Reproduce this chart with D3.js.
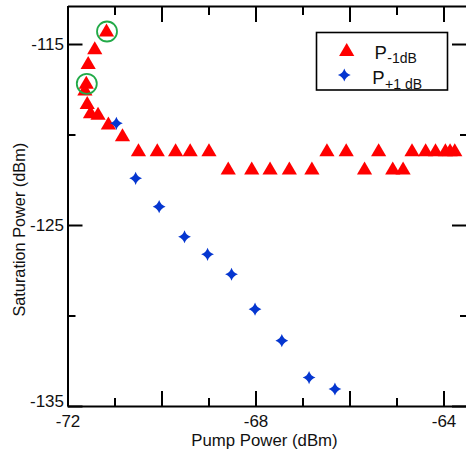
<!DOCTYPE html>
<html>
<head>
<meta charset="utf-8">
<script src="https://cdn.jsdelivr.net/npm/d3@7"></script>
<style>
  html, body { margin: 0; padding: 0; background: #fff; }
  svg { display: block; font-family: "Liberation Sans", Arial, sans-serif; }
</style>
</head>
<body>
<svg id="chart" width="466" height="452"></svg>
<script>
// P(-1 dB) saturation points: pump power (dBm) and saturation power (dBm)
const pumpMinus = [-71.17, -71.42, -71.56, -71.60, -71.63, -71.58, -71.51, -71.35, -71.13, -70.83,
                   -70.49, -70.09, -69.70, -69.39, -68.99, -68.58, -68.08, -67.69, -67.28, -66.80,
                   -66.48, -66.07, -65.68, -65.38, -65.08, -64.86, -64.67, -64.38, -64.17, -63.96,
                   -63.86, -63.76];
const satMinus  = [-114.28, -115.26, -116.07, -117.17, -117.54, -118.28, -118.80, -118.88, -119.42, -120.07,
                   -120.9, -120.9, -120.9, -120.9, -120.9, -121.9, -121.9, -121.9, -121.9, -121.9,
                   -120.9, -120.9, -121.9, -120.9, -121.9, -121.9, -120.9, -120.9, -120.9, -120.9,
                   -120.9, -120.9];

// P(+1 dB) points
const pumpPlus = [-70.96, -70.55, -70.05, -69.51, -69.02, -68.51, -68.01, -67.44, -66.86, -66.31];
const satPlus  = [-119.38, -122.42, -123.99, -125.65, -126.62, -127.72, -129.65, -131.39, -133.43, -134.06];

// Highlighted P(-1 dB) points (indices into the arrays above)
const circledIdx = [0, 3];

// Axis ticks
const xMajorTicks = [-72, -70, -68, -66, -64];
const xMinorTicks = [-71, -69, -67, -65];
const xTickLabels = [-72, -68, -64];
const yMajorTicks = [-135, -125, -115];
const yMinorTicks = [-130, -120];
const yTickLabels = [-135, -125, -115];

const legendLabels = [
  { main: "P", sub: "-1dB" },
  { main: "P", sub: "+1 dB" }
];

const RED = "#ff0000", BLUE = "#0536d0", GREEN = "#22aa48";

const svg = d3.select("#chart");
const plotLeft = 67.5, plotRight = 467, plotTop = 6, plotBottom = 406;

const x = d3.scaleLinear().domain([-72, -63.5]).range([plotLeft, plotRight]);
const y = d3.scaleLinear().domain([-135, -112.9]).range([plotBottom, plotTop]);

function styleAxis(g) {
  g.select(".domain").attr("stroke", "#000").attr("stroke-width", 2);
  g.selectAll(".tick line").attr("stroke", "#000").attr("stroke-width", 2);
  g.selectAll(".tick text").attr("fill", "#111").attr("font-size", 17)
    .attr("font-family", "'Liberation Sans', Arial, sans-serif");
}

// bottom axis: major + minor ticks pointing inward
const fmtX = d => xTickLabels.includes(d) ? String(d) : "";
svg.append("g").attr("transform", `translate(0,${plotBottom})`)
  .call(d3.axisBottom(x).tickValues(xMajorTicks).tickSizeInner(-15).tickSizeOuter(0)
        .tickPadding(9).tickFormat(fmtX))
  .call(styleAxis);
svg.append("g").attr("transform", `translate(0,${plotBottom})`)
  .call(d3.axisBottom(x).tickValues(xMinorTicks).tickSizeInner(-8).tickSizeOuter(0).tickFormat(""))
  .call(styleAxis).call(g => g.select(".domain").remove());

// top axis
svg.append("g").attr("transform", `translate(0,${plotTop})`)
  .call(d3.axisTop(x).tickValues(xMajorTicks).tickSizeInner(-16).tickSizeOuter(0).tickFormat(""))
  .call(styleAxis);
svg.append("g").attr("transform", `translate(0,${plotTop})`)
  .call(d3.axisTop(x).tickValues(xMinorTicks).tickSizeInner(-9).tickSizeOuter(0).tickFormat(""))
  .call(styleAxis).call(g => g.select(".domain").remove());

// left axis
const fmtY = d => yTickLabels.includes(d) ? String(d) : "";
const leftAxis = svg.append("g").attr("transform", `translate(${plotLeft},0)`)
  .call(d3.axisLeft(y).tickValues(yMajorTicks).tickSizeInner(-15).tickSizeOuter(0)
        .tickPadding(3.5).tickFormat(fmtY))
  .call(styleAxis);
leftAxis.selectAll(".tick text").filter(d => d === -135).attr("dy", "0.05em");
svg.append("g").attr("transform", `translate(${plotLeft},0)`)
  .call(d3.axisLeft(y).tickValues(yMinorTicks).tickSizeInner(-8).tickSizeOuter(0).tickFormat(""))
  .call(styleAxis).call(g => g.select(".domain").remove());

// right axis
svg.append("g").attr("transform", `translate(${plotRight},0)`)
  .call(d3.axisRight(y).tickValues(yMajorTicks).tickSizeInner(-15).tickSizeOuter(0).tickFormat(""))
  .call(styleAxis);
svg.append("g").attr("transform", `translate(${plotRight},0)`)
  .call(d3.axisRight(y).tickValues(yMinorTicks).tickSizeInner(-7).tickSizeOuter(0).tickFormat(""))
  .call(styleAxis).call(g => g.select(".domain").remove());

// axis titles
svg.append("text").attr("x", 264.5).attr("y", 446).attr("text-anchor", "middle")
  .attr("font-size", 16.8).attr("fill", "#111").text("Pump Power (dBm)");
svg.append("text").attr("transform", "translate(25,229.7) rotate(-90)").attr("text-anchor", "middle")
  .attr("font-size", 16.3).attr("fill", "#111").text("Saturation Power (dBm)");

// marker shapes
const triPath = "M0,-7.5L7.6,5.5L-7.6,5.5Z";
const starPath = "M0,-6.6Q1.6,-1.6 6.4,0Q1.6,1.6 0,6.6Q-1.6,1.6 -6.4,0Q-1.6,-1.6 0,-6.6Z";

const minusData = pumpMinus.map((p, i) => ({ p, s: satMinus[i] }));
const plusData = pumpPlus.map((p, i) => ({ p, s: satPlus[i] }));

svg.append("g").selectAll("path").data(minusData).join("path")
  .attr("d", triPath).attr("fill", RED)
  .attr("transform", d => `translate(${x(d.p)},${y(d.s)})`);

svg.append("g").selectAll("path").data(plusData).join("path")
  .attr("d", starPath).attr("fill", BLUE)
  .attr("transform", d => `translate(${x(d.p)},${y(d.s)})`);

svg.append("g").selectAll("circle").data(circledIdx.map(i => minusData[i])).join("circle")
  .attr("cx", d => x(d.p) + 0.5).attr("cy", d => y(d.s) + 0.5).attr("r", 10)
  .attr("fill", "none").attr("stroke", GREEN).attr("stroke-width", 1.8);

// legend
const lg = svg.append("g");
lg.append("rect").attr("x", 316.5).attr("y", 32.5).attr("width", 131).attr("height", 57.5)
  .attr("fill", "#fff").attr("stroke", "#000").attr("stroke-width", 1.6);
lg.append("path").attr("d", triPath).attr("fill", RED).attr("transform", "translate(346.7,50.5)");
lg.append("path").attr("d", starPath).attr("fill", BLUE).attr("transform", "translate(344.3,75)");
const legendPos = [{ x: 374.5, y: 59 }, { x: 372.2, y: 84.3 }];
legendLabels.forEach((l, i) => {
  const t = lg.append("text").attr("x", legendPos[i].x).attr("y", legendPos[i].y)
    .attr("fill", "#111").attr("font-size", 18.5);
  t.append("tspan").text(l.main);
  t.append("tspan").attr("dx", 0.5).attr("dy", 4.3).attr("font-size", 14).text(l.sub);
});
</script>
</body>
</html>
